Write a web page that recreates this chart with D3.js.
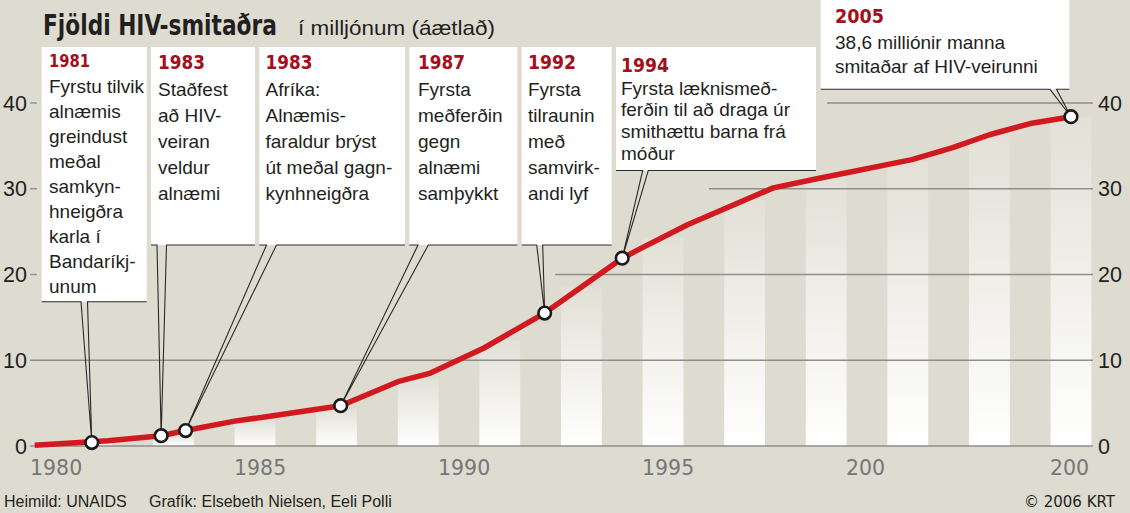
<!DOCTYPE html>
<html lang="is">
<head>
<meta charset="UTF-8">
<title>Fjöldi HIV-smitaðra</title>
<script src="https://d3js.org/d3.v7.min.js"></script>
<style>
  body { margin: 0; background: #dedcd1; }
  svg { display: block; font-family: "Liberation Sans", Arial, sans-serif; }
  .cond { font-family: "Liberation Sans Narrow", "DejaVu Sans Condensed", "Liberation Sans", sans-serif; font-weight: bold; font-stretch: condensed; }
</style>
</head>
<body>
<div id="chart"></div>
<script>
// HIV-smitaðir í heiminum, milljónir (lesið af myndinni)
const lineYears  = [1979.6, 1981.4, 1982.7, 1983.3, 1984.5, 1985.4, 1987.1, 1988.5, 1989.3, 1990.6, 1992.1,
                    1994.0, 1994.4, 1995.6, 1997.7, 1998.8, 2001.1, 2002.1, 2003.0, 2004.0, 2005.0];
const lineValues = [0.1, 0.6, 1.2, 1.8, 2.9, 3.5, 4.7, 7.5, 8.5, 11.4, 15.5,
                    21.9, 22.9, 25.8, 30.1, 31.2, 33.4, 34.8, 36.3, 37.6, 38.4];

// ljósu súlurnar (annað hvert ár)
const barYears  = [1981, 1983, 1985, 1987, 1989, 1991, 1993, 1995, 1997, 1999, 2001, 2003, 2005];
const barValues = [0.5, 1.5, 3.0, 4.4, 7.9, 12.3, 18.5, 24.3, 28.7, 31.4, 33.3, 36.3, 38.4];

// atburðir
const eventYears  = [1981.0, 1982.7, 1983.3, 1987.1, 1992.1, 1994.0, 2005.0];
const eventValues = [0.4, 1.2, 1.8, 4.7, 15.5, 21.9, 38.4];
const eventLabels = ["1981", "1983", "1983", "1987", "1992", "1994", "2005"];
const eventTexts = [
  ["Fyrstu tilvik", "alnæmis", "greindust", "meðal", "samkyn-", "hneigðra", "karla í", "Bandaríkj-", "unum"],
  ["Staðfest", "að HIV-", "veiran", "veldur", "alnæmi"],
  ["Afríka:", "Alnæmis-", "faraldur brýst", "út meðal gagn-", "kynhneigðra"],
  ["Fyrsta", "meðferðin", "gegn", "alnæmi", "samþykkt"],
  ["Fyrsta", "tilraunin", "með", "samvirk-", "andi lyf"],
  ["Fyrsta læknismeð-", "ferðin til að draga úr", "smithættu barna frá", "móður"],
  ["38,6 milliónir manna", "smitaðar af HIV-veirunni"]
];

const yTicks = [0, 10, 20, 30, 40];
const xTickYears = [1980, 1985, 1990, 1995, 2000, 2005];
const xTickLabels = ["1980", "1985", "1990", "1995", "200", "200"];

const width = 1130, height = 513;
const bg = "#dedcd1";

const x = d3.scaleLinear().domain([1980, 2005]).range([51, 1071]);
const y = d3.scaleLinear().domain([0, 40]).range([446, 103]);

const svg = d3.select("#chart").append("svg")
  .attr("width", width)
  .attr("height", height);

svg.append("rect").attr("width", width).attr("height", height).attr("fill", bg);

const grad = svg.append("defs").append("linearGradient")
  .attr("id", "barGrad")
  .attr("x1", 0).attr("y1", 1).attr("x2", 0).attr("y2", 0);
grad.append("stop").attr("offset", "0%").attr("stop-color", "#ffffff").attr("stop-opacity", 1);
grad.append("stop").attr("offset", "100%").attr("stop-color", "#ffffff").attr("stop-opacity", 0.12);

// súlur
const yearW = x(1981) - x(1980);
svg.append("g").selectAll("rect")
  .data(barYears)
  .enter().append("rect")
  .attr("x", (d) => x(d) - yearW / 2)
  .attr("width", yearW)
  .attr("y", (d, i) => y(barValues[i]))
  .attr("height", (d, i) => y(0) - y(barValues[i]))
  .attr("fill", "url(#barGrad)");

// hnitalínur - sumar styttar eins og í frumriti
const gridStart = { 0: 30, 10: 30, 20: 555, 30: 709, 40: 827 };
svg.append("g").selectAll("line")
  .data(yTicks)
  .enter().append("line")
  .attr("x1", (d) => gridStart[d])
  .attr("x2", 1093)
  .attr("y1", (d) => y(d))
  .attr("y2", (d) => y(d))
  .attr("stroke", "#8e8e8b")
  .attr("stroke-width", 1.6);

// smá strik vinstra megin
svg.append("g").selectAll("line")
  .data(yTicks.filter((d) => d >= 20))
  .enter().append("line")
  .attr("x1", 30).attr("x2", 37)
  .attr("y1", (d) => y(d)).attr("y2", (d) => y(d))
  .attr("stroke", "#9a9a96")
  .attr("stroke-width", 1.6);

svg.append("g").selectAll("text")
  .data(yTicks)
  .enter().append("text")
  .attr("x", 27)
  .attr("y", (d) => y(d) + 7.5)
  .attr("text-anchor", "end")
  .attr("font-size", 21.5)
  .attr("fill", "#231f20")
  .text((d) => d);

svg.append("g").selectAll("text")
  .data(yTicks)
  .enter().append("text")
  .attr("x", 1098)
  .attr("y", (d) => y(d) + 7.5)
  .attr("font-size", 21.5)
  .attr("fill", "#231f20")
  .text((d) => d);

// ártöl
svg.append("g").selectAll("text")
  .data(xTickYears)
  .enter().append("text")
  .attr("x", (d) => x(d) - 21)
  .attr("y", 475)
  .attr("font-family", "'DejaVu Sans', sans-serif")
  .attr("font-size", 20.5)
  .attr("fill", "#767676")
  .text((d, i) => xTickLabels[i]);

// ferillinn
const pts = lineYears.map((d, i) => [d, lineValues[i]]);
svg.append("path")
  .datum(pts)
  .attr("fill", "none")
  .attr("stroke", "#d2191f")
  .attr("stroke-width", 5.5)
  .attr("stroke-linejoin", "round")
  .attr("d", d3.line().x((d) => x(d[0])).y((d) => y(d[1])));

// skýringarkassar
const boxes = [
  { x0: 41.7, x1: 146.7, y0: 47, y1: 301.7, tail: [81, 87.5], tx: 49, yb: 66.7, ys: 17, yl: 41, first: 92.5, step: 25 },
  { x0: 151, x1: 255, y0: 47, y1: 245, tail: [157, 166.5], tx: 158, yb: 69.3, ys: 20, yl: 47, first: 96, step: 26 },
  { x0: 259.3, x1: 405, y0: 47, y1: 245, tail: [266.5, 276.5], tx: 265.5, yb: 69.3, ys: 20, yl: 47, first: 96, step: 26 },
  { x0: 409.3, x1: 517.3, y0: 47, y1: 245, tail: [418, 428.3], tx: 418, yb: 69.3, ys: 20, yl: 47, first: 96, step: 26 },
  { x0: 521.7, x1: 611.7, y0: 47, y1: 245, tail: [536.7, 542.7], tx: 528, yb: 69.3, ys: 20, yl: 48, first: 96, step: 26 },
  { x0: 616, x1: 816, y0: 47, y1: 170.5, tail: [642.7, 648.3], tx: 621, yb: 71.7, ys: 20, yl: 48, first: 94.5, step: 21.7 },
  { x0: 820.7, x1: 1069.3, y0: -2, y1: 89.3, tail: [1050, 1056.5], tx: 835, yb: 22.7, ys: 20, yl: 49, first: 49.3, step: 23.4 }
];

const ann = svg.append("g");
boxes.forEach((b, i) => {
  const cx = x(eventYears[i]), cy = y(eventValues[i]);
  ann.append("rect")
    .attr("x", b.x0).attr("y", b.y0)
    .attr("width", b.x1 - b.x0).attr("height", b.y1 - b.y0)
    .attr("fill", "#ffffff");
  ann.append("path")
    .attr("d", `M${b.x0},${b.y1}H${b.tail[0]}L${cx},${cy}L${b.tail[1]},${b.y1}H${b.x1}`)
    .attr("fill", "none")
    .attr("stroke", "#2a2a2a")
    .attr("stroke-width", 1.1);
  ann.append("text")
    .attr("class", "cond")
    .attr("x", b.tx).attr("y", b.yb)
    .attr("font-size", b.ys)
    .attr("fill", "#a50f1c")
    .attr("textLength", b.yl)
    .attr("lengthAdjust", "spacingAndGlyphs")
    .text(eventLabels[i]);
  ann.append("g").selectAll("text")
    .data(eventTexts[i])
    .enter().append("text")
    .attr("x", b.tx)
    .attr("y", (d, j) => b.first + j * b.step)
    .attr("font-size", 19)
    .attr("fill", "#231f20")
    .text((d) => d);
});

// hringir
svg.append("g").selectAll("circle")
  .data(eventYears)
  .enter().append("circle")
  .attr("cx", (d) => x(d))
  .attr("cy", (d, i) => y(eventValues[i]))
  .attr("r", 6.3)
  .attr("fill", "#ffffff")
  .attr("stroke", "#1a1a1a")
  .attr("stroke-width", 2.6);

// fyrirsögn - þjappað lárétt svo hún nái 234 px
const title = svg.append("text")
  .attr("class", "cond")
  .attr("font-size", 29)
  .attr("fill", "#231f20")
  .text("Fjöldi HIV-smitaðra");
const tw = title.node().getComputedTextLength();
title.attr("transform", `translate(43,34.5) scale(${234 / tw},1)`);

svg.append("text")
  .attr("x", 298).attr("y", 34.5)
  .attr("font-size", 21)
  .attr("fill", "#231f20")
  .attr("textLength", 197)
  .attr("lengthAdjust", "spacingAndGlyphs")
  .text("í milljónum (áætlað)");

// neðanmál
svg.append("text")
  .attr("x", 4).attr("y", 506.5)
  .attr("font-size", 16)
  .attr("fill", "#231f20")
  .text("Heimild: UNAIDS");

svg.append("text")
  .attr("x", 149).attr("y", 506.5)
  .attr("font-size", 16)
  .attr("fill", "#231f20")
  .text("Grafík: Elsebeth Nielsen, Eeli Polli");

svg.append("text")
  .attr("x", 1115).attr("y", 506.5)
  .attr("text-anchor", "end")
  .attr("font-family", "'DejaVu Sans', sans-serif")
  .attr("font-size", 15)
  .attr("fill", "#231f20")
  .text("© 2006 KRT");
</script>
</body>
</html>
